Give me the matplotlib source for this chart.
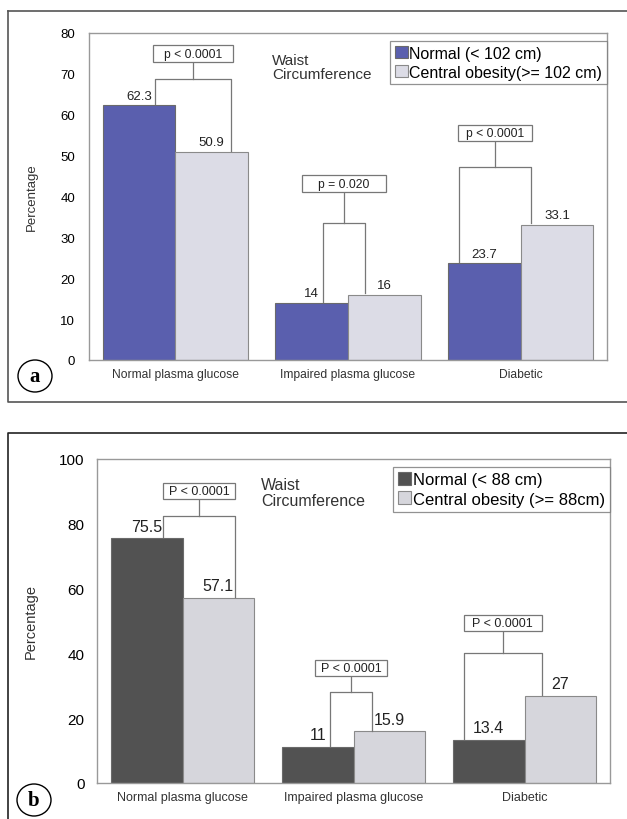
import numpy as np
import matplotlib
matplotlib.use("Agg")
import matplotlib.pyplot as plt
from matplotlib.patches import Ellipse, Rectangle
from matplotlib.lines import Line2D

plt.rcParams['font.family'] = ['Liberation Sans', 'DejaVu Sans']

categories = ["Normal plasma glucose", "Impaired plasma glucose", "Diabetic"]

# panel a (men)
a_normal = [62.3, 14, 23.7]
a_obese = [50.9, 16, 33.1]
a_labels = ["62.3", "14", "23.7"], ["50.9", "16", "33.1"]
a_pvals = ["p < 0.0001", "p = 0.020", "p < 0.0001"]
a_legend = ["Normal (< 102 cm)", "Central obesity(>= 102 cm)"]

# panel b (women)
b_normal = [75.5, 11, 13.4]
b_obese = [57.1, 15.9, 27]
b_labels = ["75.5", "11", "13.4"], ["57.1", "15.9", "27"]
b_pvals = ["P < 0.0001", "P < 0.0001", "P < 0.0001"]
b_legend = ["Normal (< 88 cm)", "Central obesity (>= 88cm)"]

W, H = 627, 820
fig = plt.figure(figsize=(W / 100, H / 100), dpi=100)
fig.patch.set_facecolor("white")


def px(x0, y0, x1, y1):
    # pixel box -> figure fraction [left, bottom, width, height]
    return [x0 / W, 1 - y1 / H, (x1 - x0) / W, (y1 - y0) / H]


def panel(rect, normal, obese, labels, pvals, legend, cols, ymax, ystep,
          legs, bracket_h, stem_top, box_w, box_h, fs):
    ax = fig.add_axes(rect)
    x = np.arange(len(categories))
    w = 0.42
    ax.bar(x - w / 2, normal, w, color=cols[0], edgecolor="#6a6a6a", linewidth=0.8,
           label=legend[0])
    ax.bar(x + w / 2, obese, w, color=cols[1], edgecolor="#8a8a8a", linewidth=0.8,
           label=legend[1])

    for i in range(len(categories)):
        ax.annotate(labels[0][i], (x[i] - w / 2, normal[i]), xytext=(0, fs['off']),
                    textcoords="offset points", ha="center", va="bottom",
                    fontsize=fs['val'], color="#222222")
        ax.annotate(labels[1][i], (x[i] + w / 2, obese[i]), xytext=(0, fs['off']),
                    textcoords="offset points", ha="center", va="bottom",
                    fontsize=fs['val'], color="#222222")
        # bracket
        xl = x[i] + legs[i][0]
        xr = x[i] + legs[i][1]
        xm = (xl + xr) / 2
        ax.plot([xl, xl, xr, xr], [normal[i] + 0.3, bracket_h[i], bracket_h[i], obese[i] + 0.3],
                color="#777777", lw=0.9)
        ax.plot([xm, xm], [bracket_h[i], stem_top[i]], color="#777777", lw=0.9)
        ax.add_patch(Rectangle((xm - box_w[i] / 2, stem_top[i]), box_w[i], box_h,
                               fc="white", ec="#777777", lw=0.9, zorder=3))
        ax.text(xm, stem_top[i] + box_h / 2, pvals[i], ha="center", va="center",
                fontsize=fs['p'], color="#222222", zorder=4)

    ax.set_xlim(-0.5, 2.5)
    ax.set_ylim(0, ymax)
    ax.set_yticks(np.arange(0, ymax + 1, ystep))
    ax.set_xticks(x)
    ax.set_xticklabels(categories, fontsize=fs['xt'], color="#333333")
    ax.tick_params(axis="y", length=0, pad=fs['ypad'], labelsize=fs['yt'])
    ax.tick_params(axis="x", length=0, pad=6)
    for s in ax.spines.values():
        s.set_color("#999999")
        s.set_linewidth(1)
    ax.set_ylabel("Percentage", fontsize=fs['yl'], color="#333333")
    ax.yaxis.set_label_coords(fs['ylx'], 0.5)
    ax.text(fs['wx'], fs['wy'], "Waist\nCircumference", transform=ax.transAxes,
            ha="left", va="top", fontsize=fs['w'], color="#333333", linespacing=1.05)
    leg = ax.legend(loc="upper right", bbox_to_anchor=(1.0, fs['legy']), fontsize=fs['leg'],
                    frameon=True, fancybox=False, borderaxespad=0, handlelength=0.8,
                    handleheight=0.8, handletextpad=0.1, labelspacing=0.25,
                    borderpad=0.3)
    leg.get_frame().set_edgecolor("#777777")
    leg.get_frame().set_linewidth(0.9)
    return ax


panel(px(89, 34, 607, 361), a_normal, a_obese, a_labels, a_pvals, a_legend,
      ["#5a5fae", "#dcdce6"], 80, 10,
      [(-0.116, 0.32), (-0.145, 0.10), (-0.355, 0.058)],
      [68.8, 33.5, 47.2], [72.9, 41.1, 53.5], [0.465, 0.49, 0.425], 4.1,
      dict(off=2.5, val=9.5, p=8.7, xt=8.7, yt=9.5, ypad=10, yl=9.5, ylx=-0.098,
           w=11, wx=0.353, wy=0.94, leg=11.5, legy=0.976))

panel(px(97, 460, 610, 784), b_normal, b_obese, b_labels, b_pvals, b_legend,
      ["#525252", "#d6d6dc"], 100, 20,
      [(-0.112, 0.306), (-0.135, 0.106), (-0.353, 0.10)],
      [82.5, 28.0, 40.0], [87.7, 32.9, 47.0], [0.42, 0.42, 0.46], 5.0,
      dict(off=3.5, val=11.5, p=9, xt=9, yt=11, ypad=9, yl=10.5, ylx=-0.115,
           w=11.5, wx=0.32, wy=0.944, leg=12, legy=0.975))

# outer panel frames (open on the right)
fig.add_artist(Line2D([8 / W, 8 / W, 1, ], [1 - 12 / H, 1 - 403 / H, 1 - 403 / H],
                      transform=fig.transFigure, color="#555555", lw=1.2))
fig.add_artist(Line2D([8 / W, 1], [1 - 12 / H, 1 - 12 / H],
                      transform=fig.transFigure, color="#555555", lw=1.2))
fig.add_artist(Line2D([1, 8 / W, 8 / W], [1 - 434 / H, 1 - 434 / H, 0],
                      transform=fig.transFigure, color="#222222", lw=1.2))

# panel letters
for letter, (cx, cy) in [("a", (35, 377)), ("b", (34, 801))]:
    fig.add_artist(Ellipse((cx / W, 1 - cy / H), 34 / W, 32 / H, transform=fig.transFigure,
                           fc="white", ec="black", lw=1))
    fig.text(cx / W, 1 - cy / H, letter, ha="center", va="center", fontsize=15,
             fontweight="bold", family="Liberation Serif")

fig.savefig("out.png", dpi=100)
